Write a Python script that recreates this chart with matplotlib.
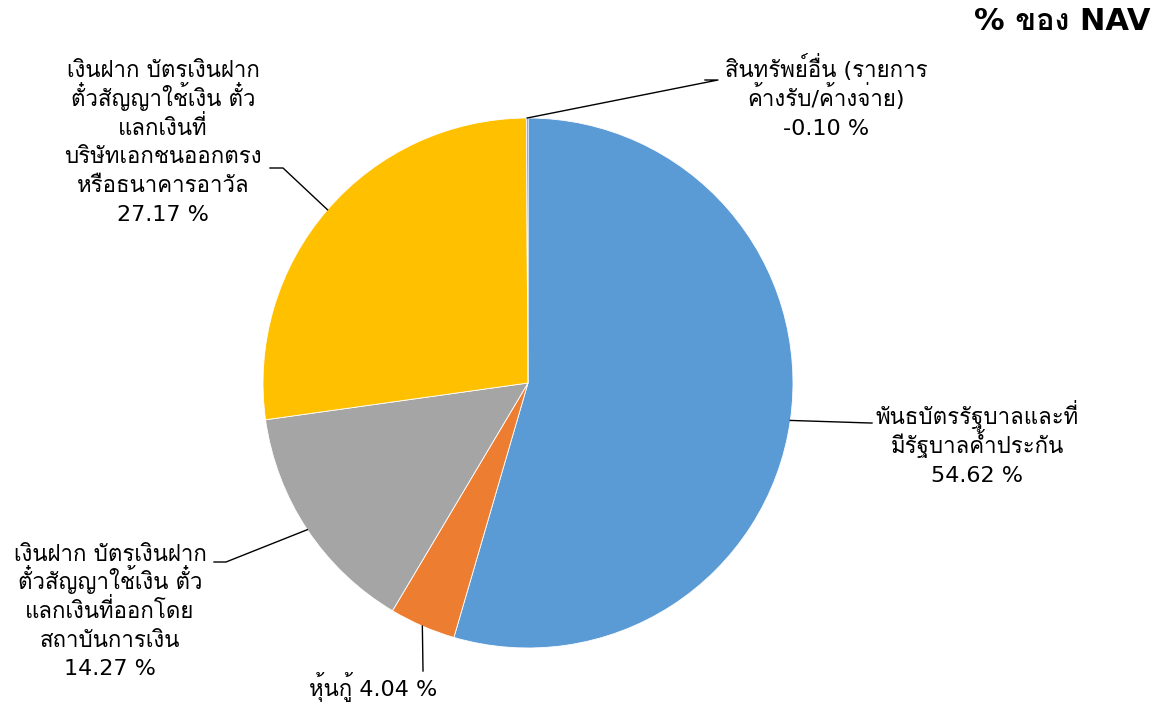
import numpy as np
import matplotlib
matplotlib.use("Agg")
import matplotlib.pyplot as plt

plt.rcParams['font.family'] = ['DejaVu Sans', 'Loma']

# portfolio breakdown, % of NAV (clockwise from 12 o'clock)
names = ["พันธบัตรรัฐบาลและที่\nมีรัฐบาลค้ำประกัน",
         "หุ้นกู้",
         "เงินฝาก บัตรเงินฝาก\nตั๋วสัญญาใช้เงิน ตั๋ว\nแลกเงินที่ออกโดย\nสถาบันการเงิน",
         "เงินฝาก บัตรเงินฝาก\nตั๋วสัญญาใช้เงิน ตั๋ว\nแลกเงินที่\nบริษัทเอกชนออกตรง\nหรือธนาคารอาวัล",
         "สินทรัพย์อื่น (รายการ\nค้างรับ/ค้างจ่าย)"]
values = [54.62, 4.04, 14.27, 27.17, -0.10]
colors = ["#5B9BD5", "#ED7D31", "#A5A5A5", "#FFC000", "#4472C4"]

W, H = 1162, 702
cx, cy, R = 528, H - 383, 265
PITCH = 28.7   # px between label lines

fig = plt.figure(figsize=(W / 100, H / 100), dpi=100)
ax = fig.add_axes([0, 0, 1, 1])
wedges, _ = ax.pie(np.abs(values), colors=colors, startangle=90, counterclock=False,
                   center=(cx, cy), radius=R,
                   wedgeprops=dict(edgecolor="white", linewidth=0.6))
ax.set_xlim(0, W)
ax.set_ylim(0, H)
ax.set_aspect("equal")
ax.axis("off")

# label block centre, elbow of the leader line, end of the leader line (pixels from top-left)
label_pos = [(977, 445), (373, 688), (110, 610), (163, 141), (826, 98)]
elbows = [(870, 423), (423, 670), (226, 562), (283, 168), (718, 80)]
ends = [(872, 423), (423, 671), (214, 562), (270, 168), (705, 80)]

for w, name, v, (tx, ty), (ex, ey), (lx, ly) in zip(wedges, names, values, label_pos, elbows, ends):
    ang = np.deg2rad((w.theta1 + w.theta2) / 2)
    px, py = cx + R * np.cos(ang), cy + R * np.sin(ang)
    ax.plot([px, ex, lx], [py, H - ey, H - ly], color="black", lw=1.0)
    sep = " " if "\n" not in name else "\n"
    lines = f"{name}{sep}{v:.2f} %".split("\n")
    n = len(lines)
    # one text per line so the Thai marks don't stretch the spacing
    for i, line in enumerate(lines):
        yc = ty + (i - (n - 1) / 2) * PITCH
        ax.text(tx, H - (yc + 8), line, ha="center", va="baseline", fontsize=16)

fig.text(1150 / W, 1 - 22 / H, "% ของ NAV", ha="right", va="center",
         fontsize=22, fontweight="bold")

fig.savefig("out.png", dpi=100)
